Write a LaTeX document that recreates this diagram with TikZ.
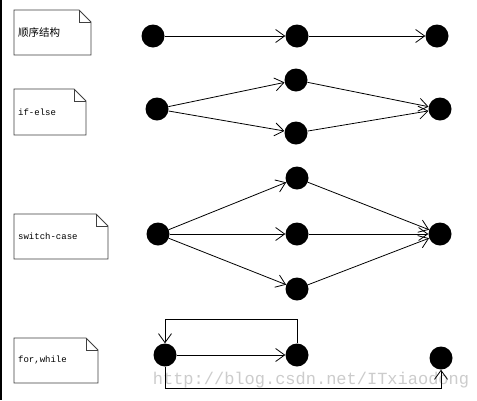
\documentclass[tikz,border=0pt]{standalone}
\usepackage{fontspec}
\setmonofont{Liberation Mono}
\newfontfamily\cjk{Noto Sans CJK SC}
\usetikzlibrary{arrows.meta}
\newcommand\mynote[6]{%
  \draw[notebox] (#1,-#2) -- (#3-12,-#2) -- (#3,-#2-12) -- (#3,-#4) -- (#1,-#4) -- cycle;
  \draw[notebox] (#3-12,-#2) -- (#3-12,-#2-12) -- (#3,-#2-12);
  \node[notetext] (#5) at (#1+4,-#2/2-#4/2) {#6};
}
\begin{document}
\begin{tikzpicture}[x=1pt,y=1pt,
  dot/.style={circle,fill=black,inner sep=0pt,minimum size=23pt},
  arr/.style={line width=0.8pt,-{Straight Barb[length=9pt,width=13pt]}},
  plain/.style={line width=0.8pt},
  notebox/.style={draw=black!75,line width=0.8pt},
  notetext/.style={anchor=west,inner sep=0pt,font=\ttfamily\fontsize{9}{10}\selectfont}]
\useasboundingbox (0,0) rectangle (477,-400);
\fill[white] (0,0) rectangle (477,-400);
\draw[line width=1.6pt] (1,0) -- (1,-400);
% watermark
\node[text=black!20,font=\fontspec{Liberation Mono}\fontsize{17}{18}\selectfont,inner sep=0pt] (wm) at (311,-380) {http://blog.csdn.net/ITxiaodong};
% notes
\mynote{14}{10}{91}{55}{n1}{{\cjk\fontsize{10.5}{12}\selectfont 顺序结构}}
\mynote{14}{89}{86}{135}{n2}{if-else}
\mynote{14}{214}{108}{259}{n3}{switch-case}
\mynote{14}{338}{98}{383}{n4}{for,while}
% row 1
\node[dot] (a1) at (153,-36) {};
\node[dot] (a2) at (297,-36) {};
\node[dot] (a3) at (437,-36) {};
\draw[arr] (a1) -- (a2);
\draw[arr] (a2) -- (a3);
% row 2
\node[dot] (b1) at (157,-109) {};
\node[dot] (b2) at (296,-80) {};
\node[dot] (b3) at (296,-133) {};
\node[dot] (b4) at (440,-109) {};
\draw[arr] (b1) -- (b2);
\draw[arr] (b1) -- (b3);
\draw[arr] (b2) -- (b4);
\draw[arr] (b3) -- (b4);
% row 3
\node[dot] (c1) at (158,-234) {};
\node[dot] (c2) at (297,-178) {};
\node[dot] (c3) at (297,-234) {};
\node[dot] (c4) at (297,-289) {};
\node[dot] (c5) at (440,-234) {};
\draw[arr] (c1) -- (c2);
\draw[arr] (c1) -- (c3);
\draw[arr] (c1) -- (c4);
\draw[arr] (c2) -- (c5);
\draw[arr] (c3) -- (c5);
\draw[arr] (c4) -- (c5);
% row 4
\node[dot] (d1) at (165,-355) {};
\node[dot] (d2) at (297,-355) {};
\node[dot] (d3) at (441,-358) {};
\coordinate (lt) at (165,-319);
\coordinate (rt) at (297,-319);
\coordinate (lb) at (165,-388);
\coordinate (rb) at (441,-388);
\draw[arr] (d1) -- (d2);
\draw[arr] (d2.north) -- (rt) -- (lt) -- (d1.north);
\draw[arr] (d1.south) -- (lb) -- (rb) -- (d3.south);
\end{tikzpicture}
\end{document}
